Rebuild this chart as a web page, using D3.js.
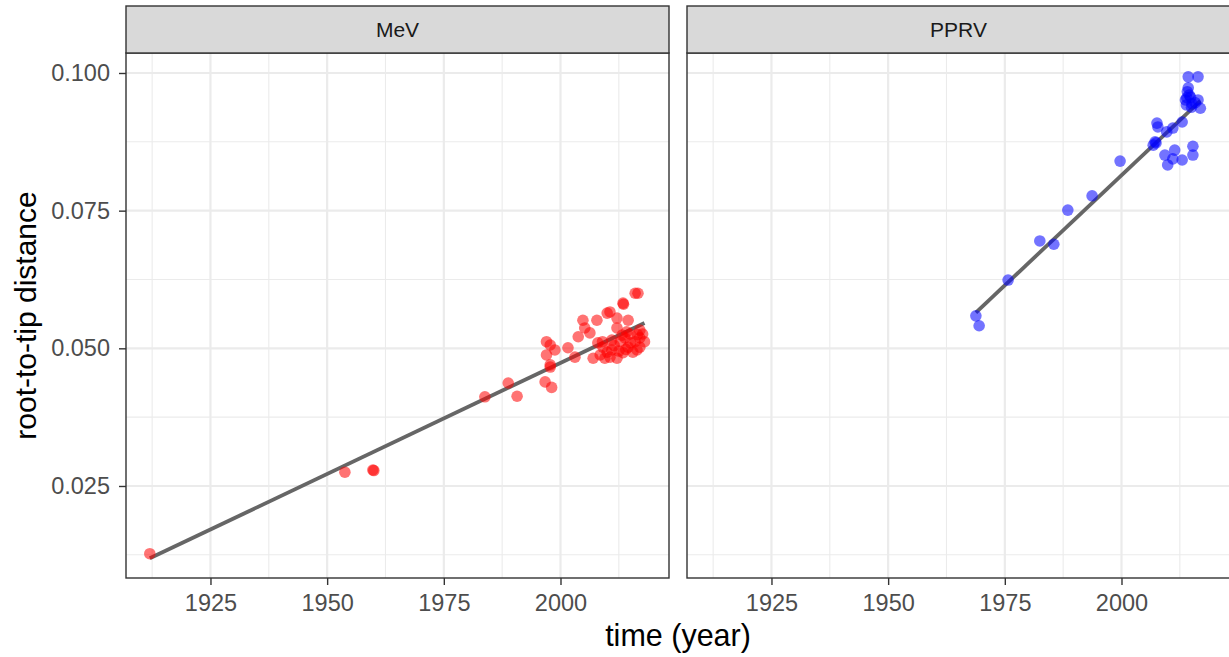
<!DOCTYPE html>
<html>
<head>
<meta charset="utf-8">
<script src="https://cdn.jsdelivr.net/npm/d3@7"></script>
<style>
  body { margin: 0; background: #fff; }
  svg { display: block; font-family: "Liberation Sans", Arial, sans-serif; }
</style>
</head>
<body>
<svg id="chart"></svg>
<script>
// values
var panels = ["MeV", "PPRV"];
var pointColors = ["#FF0000", "#0000FF"];

var mevYears = [1912.0, 1953.8, 1959.8, 1960.0, 1983.8, 1988.8, 1990.7,
  1996.7, 1998.1, 1997.8, 1997.0, 1997.8, 1997.0, 1998.8, 1997.8,
  2001.6, 2003.1, 2003.8, 2004.8, 2005.2, 2006.3, 2007.8,
  2010.0, 2010.6, 2012.1, 2013.4, 2013.5, 2016.0, 2016.6,
  2014.5, 2012.1, 2013.2, 2014.2, 2017.0,
  2008.0, 2009.1, 2010.0, 2011.0, 2008.5, 2007.0, 2009.5, 2012.1,
  2012.8, 2013.8, 2014.9, 2016.0, 2016.4, 2017.0, 2018.0, 2017.6,
  2015.5, 2014.5, 2013.4, 2010.6, 2017.0,
  2011.5, 2012.5, 2015.0, 2016.5, 2011.0, 2014.0, 2009.0];
var mevDists = [0.0127, 0.0275, 0.0279, 0.0278, 0.0412, 0.0437, 0.0413,
  0.0439, 0.0429, 0.0466, 0.0512, 0.0506, 0.0488, 0.0497, 0.0470,
  0.0501, 0.0484, 0.0521, 0.0551, 0.0537, 0.0528, 0.0551,
  0.0564, 0.0566, 0.0555, 0.0582, 0.0580, 0.0600, 0.0600,
  0.0551, 0.0537, 0.0524, 0.0530, 0.0533,
  0.0510, 0.0502, 0.0493, 0.0497, 0.0488, 0.0482, 0.0482, 0.0482,
  0.0512, 0.0519, 0.0526, 0.0512, 0.0497, 0.0519, 0.0512, 0.0526,
  0.0493, 0.0502, 0.0492, 0.0484, 0.0502,
  0.0505, 0.0495, 0.0510, 0.0525, 0.0515, 0.0498, 0.0512];

var pprvYears = [1968.8, 1969.5, 1975.7, 1982.5, 1985.5, 1988.5, 1993.7, 1999.7,
  2007.2, 2007.4, 2006.8, 2007.6, 2007.8, 2009.7, 2011.0, 2013.0,
  2009.3, 2009.9, 2011.4, 2011.0, 2013.0, 2015.3, 2015.3,
  2014.3, 2016.4,
  2014.1, 2013.7, 2014.8, 2014.3, 2013.9, 2015.1, 2015.8, 2016.9, 2016.4, 2014.5, 2014.0, 2015.0];
var pprvDists = [0.0559, 0.0541, 0.0624, 0.0695, 0.0689, 0.0751, 0.0777, 0.0840,
  0.0875, 0.0873, 0.0869, 0.0909, 0.0902, 0.0893, 0.0900, 0.0911,
  0.0851, 0.0833, 0.0860, 0.0844, 0.0842, 0.0851, 0.0867,
  0.0993, 0.0993,
  0.0966, 0.0951, 0.0956, 0.0973, 0.0942, 0.0944, 0.0946, 0.0936, 0.0951, 0.0960, 0.0955, 0.0938];

var xTicks = [1925, 1950, 1975, 2000];
var xMinor = [1912.5, 1937.5, 1962.5, 1987.5, 2012.5];
var yTicks = [0.025, 0.050, 0.075, 0.100];
var yMinor = [0.0125, 0.0375, 0.0625, 0.0875];
var xDomain = [1906.9, 2023.25];
var yDomain = [0.00829, 0.10363];

var W = 1229, H = 657;
var panelLeft = [126, 687];
var panelTop = 53, panelW = 543, panelH = 525, stripH = 47;

var svg = d3.select("#chart").attr("width", W).attr("height", H);

var x = d3.scaleLinear().domain(xDomain).range([0, panelW]);
var y = d3.scaleLinear().domain(yDomain).range([panelH, 0]);

function linFit(xs, ys) {
  var mx = d3.mean(xs), my = d3.mean(ys);
  var sxy = d3.sum(xs, function (v, i) { return (v - mx) * (ys[i] - my); });
  var sxx = d3.sum(xs, function (v) { return (v - mx) * (v - mx); });
  var b = sxy / sxx;
  return { a: my - b * mx, b: b };
}

var allYears = [mevYears, pprvYears];
var allDists = [mevDists, pprvDists];

panels.forEach(function (name, p) {
  var g = svg.append("g").attr("transform", "translate(" + panelLeft[p] + "," + panelTop + ")");

  // grid
  g.selectAll(".xminor").data(xMinor).enter().append("line")
    .attr("x1", x).attr("x2", x).attr("y1", 0).attr("y2", panelH)
    .attr("stroke", "#EBEBEB").attr("stroke-width", 1.1);
  g.selectAll(".yminor").data(yMinor).enter().append("line")
    .attr("y1", y).attr("y2", y).attr("x1", 0).attr("x2", panelW)
    .attr("stroke", "#EBEBEB").attr("stroke-width", 1.1);
  g.selectAll(".xmajor").data(xTicks).enter().append("line")
    .attr("x1", x).attr("x2", x).attr("y1", 0).attr("y2", panelH)
    .attr("stroke", "#EBEBEB").attr("stroke-width", 2.2);
  g.selectAll(".ymajor").data(yTicks).enter().append("line")
    .attr("y1", y).attr("y2", y).attr("x1", 0).attr("x2", panelW)
    .attr("stroke", "#EBEBEB").attr("stroke-width", 2.2);

  // regression line over the data range
  var xs = allYears[p], ys = allDists[p];
  var fit = linFit(xs, ys);
  var ext = d3.extent(xs);
  g.append("line")
    .attr("x1", x(ext[0])).attr("y1", y(fit.a + fit.b * ext[0]))
    .attr("x2", x(ext[1])).attr("y2", y(fit.a + fit.b * ext[1]))
    .attr("stroke", "#666666").attr("stroke-width", 3.8);

  // points
  g.selectAll(".pt").data(xs).enter().append("circle")
    .attr("cx", function (d) { return x(d); })
    .attr("cy", function (d, i) { return y(ys[i]); })
    .attr("r", 5.8)
    .attr("fill", pointColors[p]).attr("fill-opacity", 0.55);

  // panel border
  g.append("rect").attr("x", 0).attr("y", 0).attr("width", panelW).attr("height", panelH)
    .attr("fill", "none").attr("stroke", "#333333").attr("stroke-width", 1.4);

  // strip
  var s = svg.append("g").attr("transform", "translate(" + panelLeft[p] + "," + (panelTop - stripH) + ")");
  s.append("rect").attr("width", panelW).attr("height", stripH)
    .attr("fill", "#D9D9D9").attr("stroke", "#333333").attr("stroke-width", 1.4);
  s.append("text").attr("x", panelW / 2).attr("y", stripH / 2 + 7.5)
    .attr("text-anchor", "middle").attr("font-size", 21).attr("fill", "#1A1A1A")
    .text(name);

  // x axis
  var xa = svg.append("g").attr("transform", "translate(" + panelLeft[p] + "," + (panelTop + panelH) + ")")
    .call(d3.axisBottom(x).tickValues(xTicks).tickFormat(d3.format("d")).tickSize(7).tickPadding(9));
  xa.select(".domain").remove();
  xa.selectAll(".tick line").attr("stroke", "#333333").attr("stroke-width", 1.4);
  xa.selectAll(".tick text").attr("font-size", 23.5).attr("fill", "#4D4D4D")
    .attr("font-family", "Liberation Sans, Arial, sans-serif");
});

// y axis on left panel only
var ya = svg.append("g").attr("transform", "translate(" + panelLeft[0] + "," + panelTop + ")")
  .call(d3.axisLeft(y).tickValues(yTicks).tickFormat(d3.format(".3f")).tickSize(7).tickPadding(9));
ya.select(".domain").remove();
ya.selectAll(".tick line").attr("stroke", "#333333").attr("stroke-width", 1.4);
ya.selectAll(".tick text").attr("font-size", 23.5).attr("fill", "#4D4D4D")
  .attr("font-family", "Liberation Sans, Arial, sans-serif");

// axis titles
svg.append("text").attr("x", (panelLeft[0] + panelLeft[1] + panelW) / 2).attr("y", 646)
  .attr("text-anchor", "middle").attr("font-size", 30.5).attr("fill", "#000")
  .text("time (year)");
svg.append("text").attr("transform", "translate(36," + (panelTop + panelH / 2) + ") rotate(-90)")
  .attr("text-anchor", "middle").attr("font-size", 30).attr("fill", "#000")
  .text("root-to-tip distance");
</script>
</body>
</html>
